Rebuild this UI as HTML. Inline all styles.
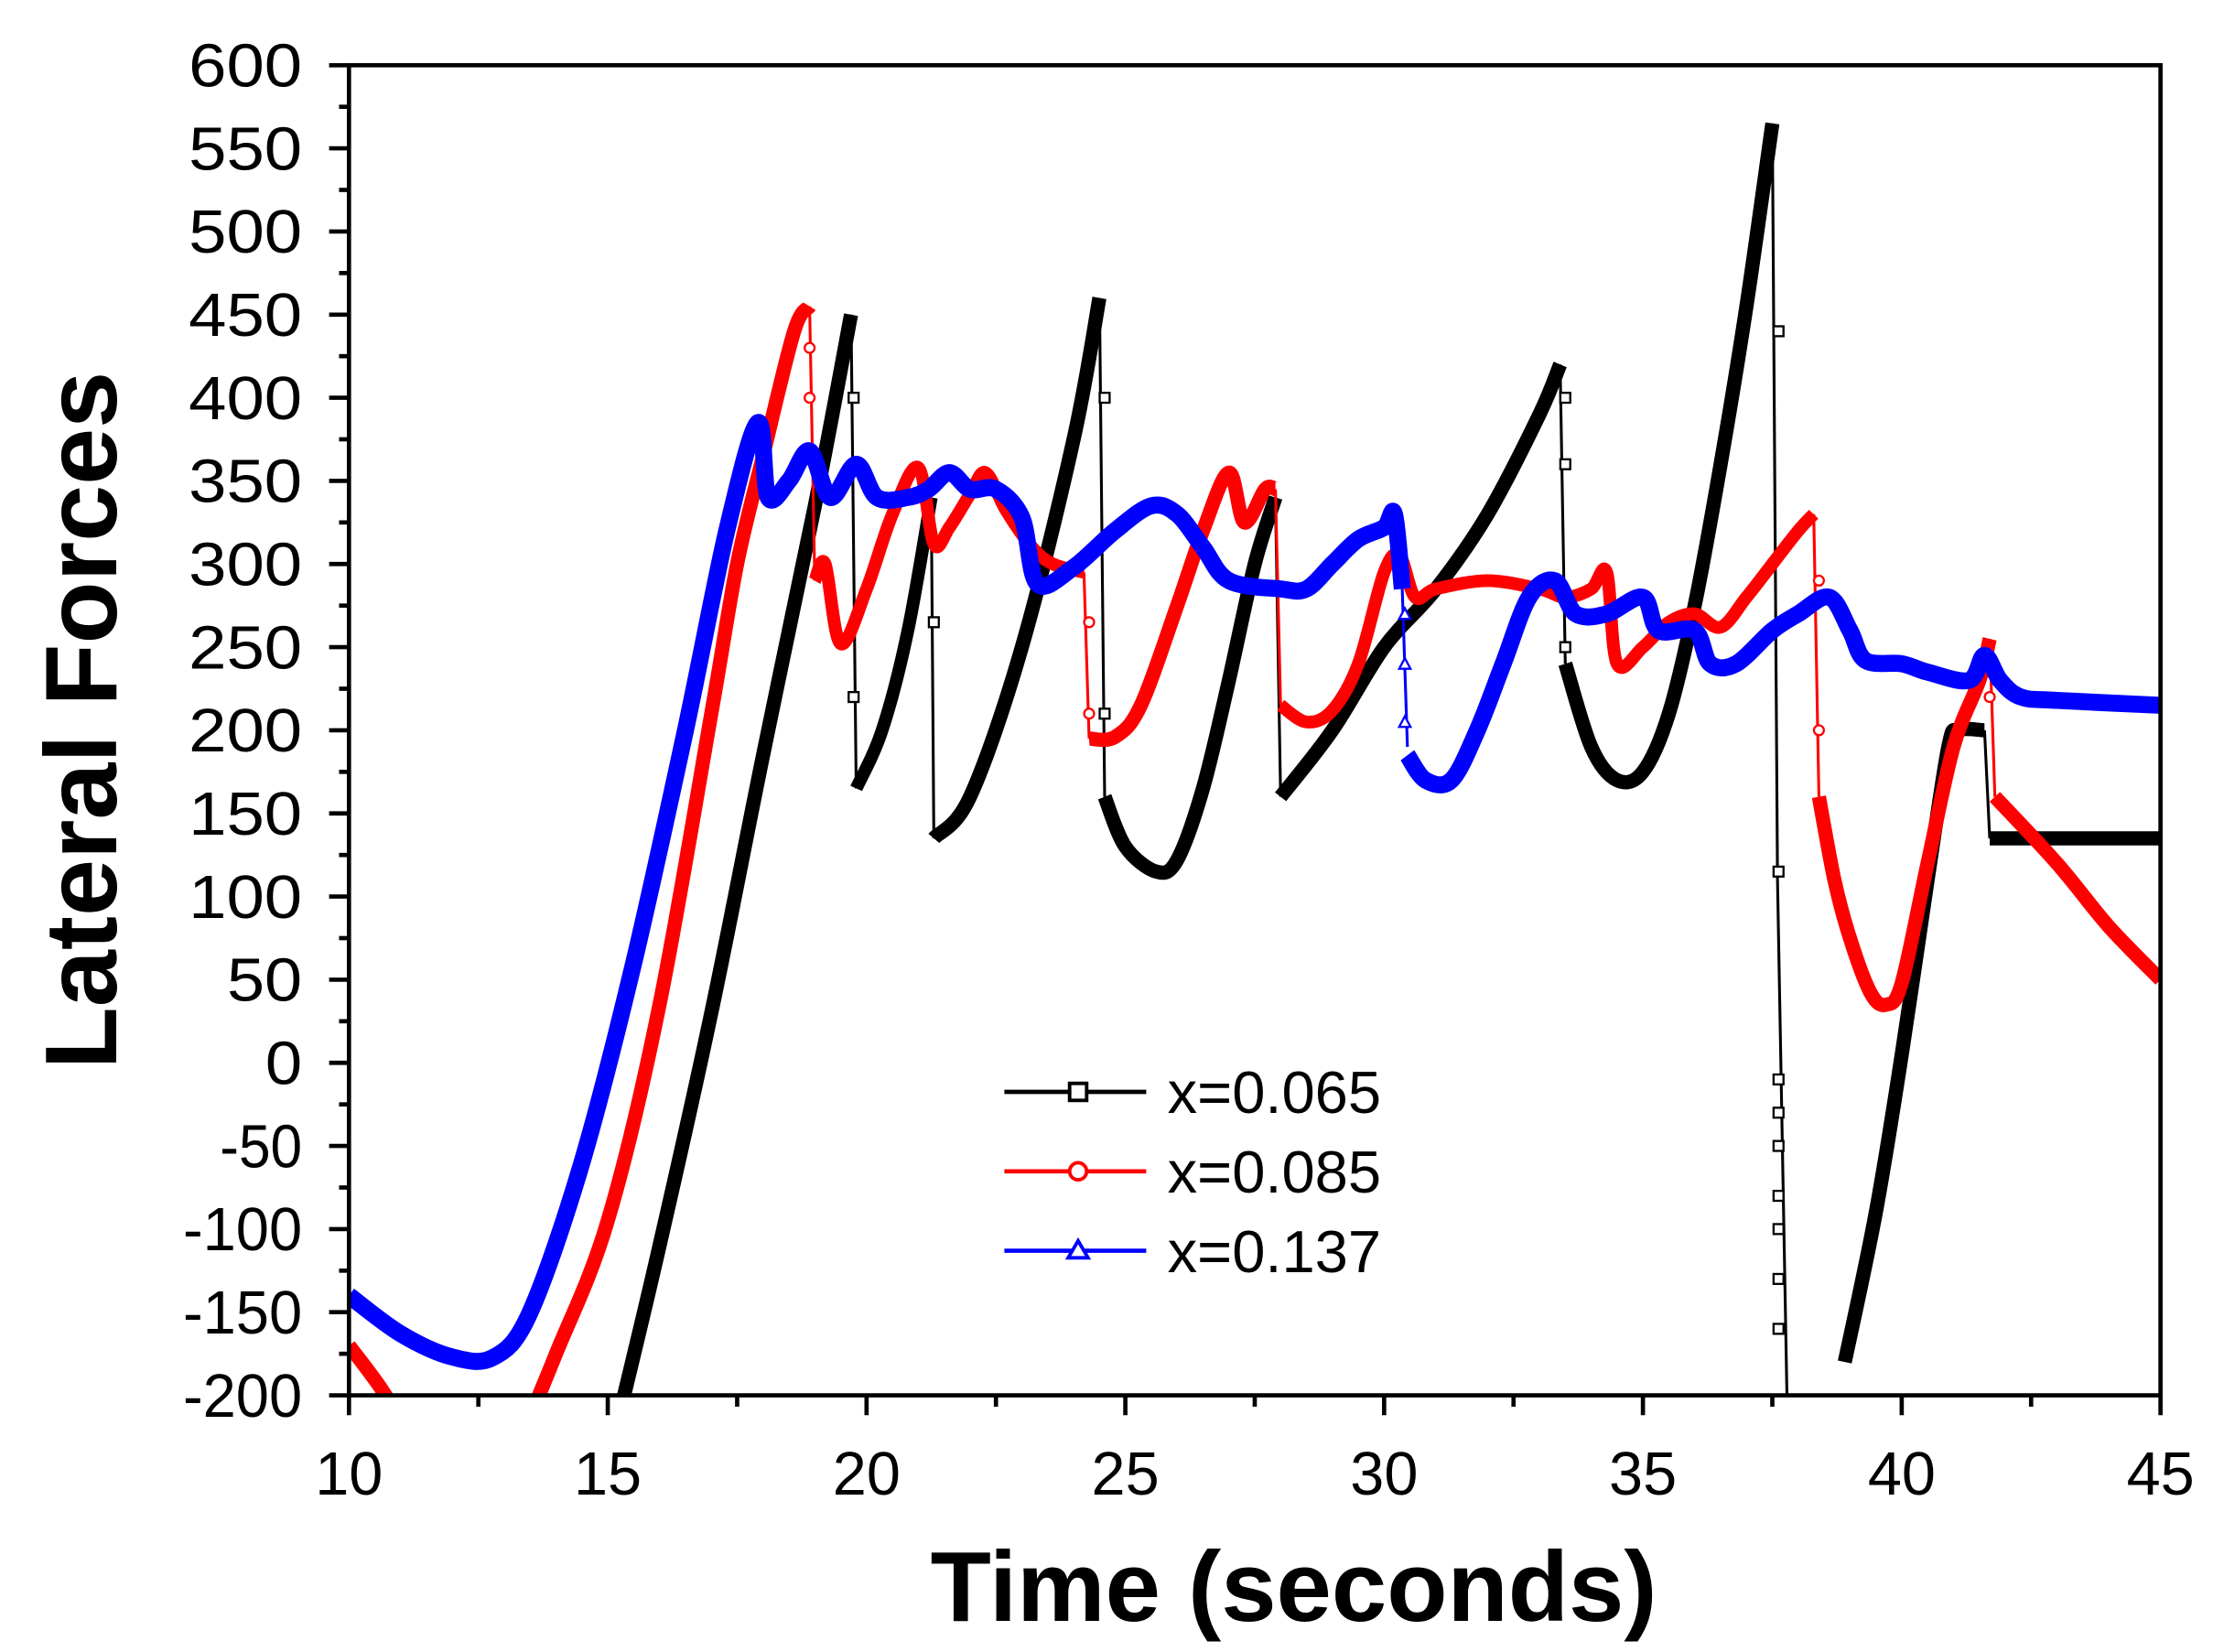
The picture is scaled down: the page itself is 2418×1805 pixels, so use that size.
<!DOCTYPE html>
<html><head><meta charset="utf-8"><style>
html,body{margin:0;padding:0;background:#fff;}
svg{display:block;}
text{font-family:"Liberation Sans",Arial,sans-serif;}
</style></head><body>
<svg id="s" width="2418" height="1805" viewBox="0 0 1560 1165" preserveAspectRatio="none" xmlns="http://www.w3.org/2000/svg">
<defs><clipPath id="c"><rect x="246" y="46" width="1277" height="938"/></clipPath></defs>
<rect width="1560" height="1165" fill="#fff"/>
<g id="series" clip-path="url(#c)"></g>
<rect x="246" y="46" width="1277" height="938" fill="none" stroke="#000" stroke-width="3"/>
<g id="ticks" stroke="#000" stroke-width="3"></g>
<g id="labels" font-size="43" fill="#000"></g>
<text x="912" y="1143" font-size="70" font-weight="bold" text-anchor="middle">Time (seconds)</text>
<text transform="translate(82,508) rotate(-90)" font-size="72" font-weight="bold" text-anchor="middle">Lateral Forces</text>
<g id="legend"></g>
</svg>
<script>
const NS="http://www.w3.org/2000/svg";
const X=t=>246+(t-10)*1277/35, Y=v=>749.5-v*1.1725;
function el(p,tag,a,txt){const e=document.createElementNS(NS,tag);for(const k in a)e.setAttribute(k,a[k]);if(txt!==undefined)e.textContent=txt;p.appendChild(e);return e;}
const tk=document.getElementById('ticks'),lb=document.getElementById('labels');
for(let v=-200;v<=600;v+=25){const maj=v%50==0;el(tk,'line',{x1:246-(maj?14:7),x2:246,y1:Y(v),y2:Y(v)});
 if(maj)el(lb,'text',{x:213,y:Y(v)+15,'text-anchor':'end',textLength:v<=-100?84:(Math.abs(v)>=100?80:(v<0?58:(v==0?26:53))),lengthAdjust:'spacingAndGlyphs'},v<0?'-'+(-v):String(v));}
for(let t=10;t<=45;t+=2.5){const maj=t%5==0;el(tk,'line',{x1:X(t),x2:X(t),y1:984,y2:984+(maj?14:8)});
 if(maj)el(lb,'text',{x:X(t),y:1054,'text-anchor':'middle'},String(t));}
const sg=document.getElementById('series');
function smooth(d,c,w){const P=d.map(p=>[X(p[0]),Y(p[1])]);let s='M'+P[0][0].toFixed(1)+','+P[0][1].toFixed(1);
 for(let i=0;i<P.length-1;i++){const p0=P[Math.max(i-1,0)],p1=P[i],p2=P[i+1],p3=P[Math.min(i+2,P.length-1)];
  const c1=[p1[0]+(p2[0]-p0[0])/6,p1[1]+(p2[1]-p0[1])/6],c2=[p2[0]-(p3[0]-p1[0])/6,p2[1]-(p3[1]-p1[1])/6];
  s+=` C${c1[0].toFixed(1)},${c1[1].toFixed(1)} ${c2[0].toFixed(1)},${c2[1].toFixed(1)} ${p2[0].toFixed(1)},${p2[1].toFixed(1)}`;}
 el(sg,'path',{d:s,fill:'none',stroke:c,'stroke-width':w,'stroke-linejoin':'round'});}
function drop(t1,v1,t2,v2,c){el(sg,'line',{x1:X(t1),y1:Y(v1),x2:X(t2),y2:Y(v2),stroke:c,'stroke-width':2});}
const K='#000',R='#f00',B='#00f';
smooth([[15.2,-215],[16,-110],[17,30],[18,185],[19,335],[19.7,450]],K,10);drop(19.7,450,19.8,165,K);
smooth([[19.8,165],[20.3,200],[20.8,260],[21.25,340]],K,9);drop(21.25,340,21.3,135,K);
smooth([[21.3,135],[22,160],[23,250],[24,375],[24.5,460]],K,10);drop(24.5,460,24.6,160,K);
smooth([[24.6,160],[25,130],[25.6,115],[26,122],[26.5,165],[27,230],[27.5,300],[27.9,340]],K,10);drop(27.9,340,28,160,K);
smooth([[28,160],[29,200],[30,250],[31,285],[32,330],[33,390],[33.4,420]],K,10);drop(33.4,420,33.5,240,K);
smooth([[33.5,240],[34,190],[34.5,170],[35,175],[35.5,210],[36,275],[36.5,360],[37,455],[37.5,565]],K,10);drop(37.5,565,37.6,110,K);drop(37.6,110,37.8,-230,K);
smooth([[38.9,-180],[39.5,-90],[40,5],[40.5,110],[40.9,190],[41.1,200],[41.6,200]],K,10);drop(41.6,200,41.7,135,K);
smooth([[41.7,135],[45,135]],K,10);
smooth([[10,-170],[10.6,-195],[11.2,-225]],R,10);
smooth([[13.4,-220],[14,-175],[15,-95],[16,35],[17,210],[17.5,300],[18,365],[18.6,440],[18.9,455]],R,10);drop(18.9,455,19,290,R);
smooth([[19,290],[19.2,300],[19.5,252],[20,285],[20.5,330],[21,358],[21.3,312],[21.6,322],[22,342],[22.3,355],[22.7,332],[23.2,310],[23.6,300],[24.2,295]],R,9);drop(24.2,295,24.3,195,R);
smooth([[24.3,195],[24.8,196],[25.3,215],[26,275],[26.5,320],[27,355],[27.3,325],[27.7,345],[27.9,345]],R,10);drop(27.9,345,28,215,R);
smooth([[28,215],[28.5,205],[29,212],[29.5,240],[30,295],[30.3,305],[30.6,280],[31,285],[32,290],[33,285],[33.5,280],[34,285],[34.3,295],[34.5,240],[35,250],[35.5,265],[36,270],[36.5,262],[37,280],[37.5,300],[38,320],[38.3,330]],R,9);drop(38.3,330,38.4,160,R);
smooth([[38.4,160],[38.7,110],[39,75],[39.4,42],[39.7,35],[40,48],[40.5,120],[41,190],[41.5,230],[41.7,255]],R,10);drop(41.7,255,41.8,160,R);
smooth([[41.8,160],[43,120],[44,82],[45,50]],R,10);
smooth([[10,-140],[11,-163],[12,-177],[12.8,-177],[13.5,-150],[14.5,-60],[15.5,60],[16.5,200],[17.3,320],[17.9,385],[18.1,340],[18.5,350],[18.9,368],[19.3,340],[19.8,360],[20.2,340],[20.8,340],[21.2,345],[21.6,355],[22,345],[22.5,345],[23,328],[23.3,288],[24,298],[24.8,320],[25.5,335],[26,330],[26.5,310],[27,290],[28,285],[28.5,285],[29,300],[29.5,315],[30,322],[30.2,330],[30.35,285]],B,12);
drop(30.35,285,30.45,190,B);
smooth([[30.45,185],[30.8,170],[31.3,170],[31.8,200],[32.3,240],[32.8,280],[33.3,290],[33.7,270],[34.3,270],[35,280],[35.3,260],[36,260],[36.3,240],[36.8,240],[37.5,260],[38,270],[38.6,280],[39,260],[39.3,242],[40,240],[40.5,235],[41.3,230],[41.6,245],[41.9,230],[42.3,220],[43,218],[45,215]],B,12);
function mk(g,t,v,c,type){const x=X(t),y=Y(v);
 if(type=='s')el(g,'rect',{x:x-3.5,y:y-3.5,width:7,height:7,fill:'#fff',stroke:c,'stroke-width':1.5});
 else if(type=='o')el(g,'circle',{cx:x,cy:y,r:3.5,fill:'#fff',stroke:c,'stroke-width':1.5});
 else el(g,'polygon',{points:`${x},${y-4} ${x-4},${y+3.5} ${x+4},${y+3.5}`,fill:'#fff',stroke:c,'stroke-width':1.5});}
[[19.75,[400,220]],[21.3,[265]],[24.6,[400,210]],[33.5,[400,360,250]],[37.62,[440,115,-10,-30,-50,-80,-100,-130,-160]]].forEach(a=>a[1].forEach(v=>mk(sg,a[0],v,'#000','s')));
[[18.9,[400,430]],[24.3,[265,210]],[38.4,[290,200]],[41.7,[220]]].forEach(a=>a[1].forEach(v=>mk(sg,a[0],v,'#f00','o')));
[[30.4,[270,240,205]]].forEach(a=>a[1].forEach(v=>mk(sg,a[0],v,'#00f','t')));
const lg=document.getElementById('legend');
[['x=0.065','#000','s',770],['x=0.085','#f00','o',826],['x=0.137','#00f','t',882]].forEach(([t,c,m,y])=>{
 el(lg,'line',{x1:708,x2:808,y1:y,y2:y,stroke:c,'stroke-width':3});
 const x=760;
 if(m=='s')el(lg,'rect',{x:x-6,y:y-6,width:12,height:12,fill:'#fff',stroke:c,'stroke-width':2.5});
 else if(m=='o')el(lg,'circle',{cx:x,cy:y,r:6,fill:'#fff',stroke:c,'stroke-width':2.5});
 else el(lg,'polygon',{points:`${x},${y-7} ${x-7},${y+5} ${x+7},${y+5}`,fill:'#fff',stroke:c,'stroke-width':2.5});
 el(lg,'text',{x:823,y:y+15,'font-size':42,fill:'#000'},t);
});
</script>
</body></html>
